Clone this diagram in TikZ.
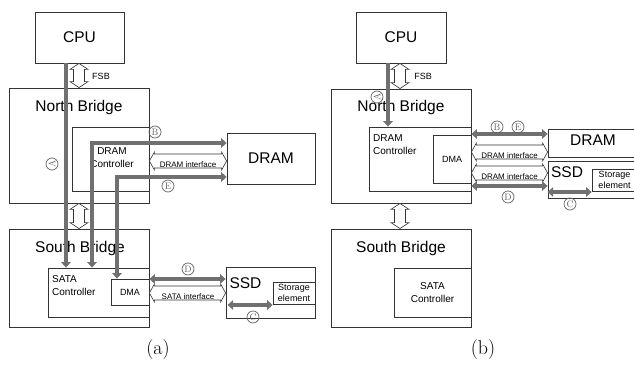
\documentclass[tikz,border=0pt]{standalone}
\usepackage{fontspec}
\newfontfamily\arialfont{Liberation Sans}
\usetikzlibrary{arrows.meta,calc}
\definecolor{pathgray}{RGB}{112,112,112}
\definecolor{markgray}{RGB}{100,100,100}
% hollow double arrows, left-right and top-bottom
\newcommand{\hollowh}[2]{%
  \draw[hollow] let \p1=#1, \p2=#2 in
    (\x1,\y1) -- (\x1+5pt,\y1+9pt) -- (\x1+5pt,\y1+7pt) -- (\x2-5pt,\y1+7pt)
    -- (\x2-5pt,\y1+9pt) -- (\x2,\y1) -- (\x2-5pt,\y1-9pt) -- (\x2-5pt,\y1-7pt)
    -- (\x1+5pt,\y1-7pt) -- (\x1+5pt,\y1-9pt) -- cycle;}
\newcommand{\hollowv}[2]{%
  \draw[hollow] let \p1=#1, \p2=#2 in
    (\x1,\y1) -- (\x1+9pt,\y1-6pt) -- (\x1+5.5pt,\y1-6pt) -- (\x1+5.5pt,\y2+6pt)
    -- (\x1+9pt,\y2+6pt) -- (\x1,\y2) -- (\x1-9pt,\y2+6pt) -- (\x1-5.5pt,\y2+6pt)
    -- (\x1-5.5pt,\y1-6pt) -- (\x1-9pt,\y1-6pt) -- cycle;}
\begin{document}
\begin{tikzpicture}[x=1pt,y=-1pt,
    box/.style={draw=black!80,line width=0.8pt,inner sep=0pt},
    bigtxt/.style={font=\arialfont\fontsize{15.5}{18}\selectfont,inner sep=0pt},
    midtxt/.style={font=\arialfont\fontsize{10}{13}\selectfont,inner sep=0pt},
    smalltxt/.style={font=\arialfont\fontsize{9}{11}\selectfont,inner sep=0pt},
    tinytxt/.style={font=\arialfont\fontsize{8}{9}\selectfont,inner sep=0pt},
    datapath/.style={draw=pathgray,line width=3.5pt,>={Triangle[width=9.5pt,length=5.5pt]}},
    hollow/.style={draw=black!80,line width=0.6pt,fill=white},
    circ/.style={circle,draw=markgray,text=markgray,line width=0.7pt,minimum size=12pt,inner sep=0pt,font=\fontsize{9.5}{10}\selectfont},
    caption/.style={font=\fontsize{20}{24}\selectfont,inner sep=0pt}]
  \clip (0,0) rectangle (634,366);
  %
  % (a)
  \node[box,bigtxt,minimum width=89pt,minimum height=51pt] (cpuA) at (79.5,37.5) {CPU};
  \node[box,minimum width=140pt,minimum height=115pt] (nbA) at (79,145.5) {};
  \node[box,minimum width=77pt,minimum height=64pt] (dctlA) at (110.5,159) {};
  \node[box,bigtxt,minimum width=88pt,minimum height=51pt] (dramA) at (271,158.5) {DRAM};
  \node[box,minimum width=140pt,minimum height=98pt] (sbA) at (79,278) {};
  \node[box,minimum width=101pt,minimum height=49pt] (sataA) at (98.5,292.5) {};
  \node[box,smalltxt,minimum width=38pt,minimum height=26pt] (dmaA) at (130,292) {DMA};
  \node[box,minimum width=89pt,minimum height=51pt] (ssdA) at (270.5,292.5) {};
  \node[box,smalltxt,align=center,minimum width=42pt,minimum height=22pt] (storA) at (294,293) {Storage\\element};
  %
  \node[bigtxt] (nbtxtA) at (79,107) {North Bridge};
  \node[bigtxt] (sbtxtA) at (80,248) {South Bridge};
  \node[midtxt,align=center] (dctltxtA) at (112,158) {DRAM\\Controller};
  \node[midtxt,align=left,anchor=west] (satatxtA) at (52,285.5) {SATA\\Controller};
  \node[bigtxt] (ssdtxtA) at (245.5,283) {SSD};
  %
  \coordinate (fsbA) at (79,0);
  \coordinate (nsA) at (79,0);
  \coordinate (dramifA) at (0,161);
  \coordinate (sataifA) at (0,293);
  \hollowv{(cpuA.south -| fsbA)}{(nbA.north -| fsbA)}
  \hollowv{(nbA.south -| nsA)}{(sbA.north -| nsA)}
  \hollowh{(dctlA.east |- dramifA)}{(dramA.west |- dramifA)}
  \hollowh{(sataA.east |- sataifA)}{(ssdA.west |- sataifA)}
  \node[smalltxt] (fsbtxtA) at (101,76) {FSB};
  \node[tinytxt] (dramiftxtA) at (188,164.5) {DRAM interface};
  \node[tinytxt] (sataiftxtA) at (188,296.5) {SATA interface};
  %
  \coordinate (aColA) at (66,0);
  \coordinate (bTurnA) at (92,143);
  \coordinate (eTurnA) at (117,177);
  \coordinate (dRowA) at (0,279);
  \coordinate (cRowA) at (0,305);
  \draw[datapath,->] (cpuA.south -| aColA) -- (sataA.north -| aColA);
  \draw[datapath,<->] (dramA.west |- bTurnA) -- (bTurnA) -- (bTurnA |- sataA.north);
  \draw[datapath,<->] (dramA.west |- eTurnA) -- (eTurnA) -- (eTurnA |- dmaA.north);
  \draw[datapath,<->] (sataA.east |- dRowA) -- (ssdA.west |- dRowA);
  \draw[datapath,<->] ([xshift=2pt]ssdA.west |- cRowA) -- (storA.west |- cRowA);
  %
  \node[circ,rotate=90] (markAa) at (52,164) {A};
  \node[circ] (markBa) at (155,132) {B};
  \node[circ] (markEa) at (168,186) {E};
  \node[circ] (markDa) at (188,269) {D};
  \node[circ] (markCa) at (253,317) {C};
  \node[caption] (capA) at (158,350) {(a)};
  %
  % (b)
  \node[box,bigtxt,minimum width=90pt,minimum height=51pt] (cpuB) at (401,37.5) {CPU};
  \node[box,minimum width=140pt,minimum height=114pt] (nbB) at (401,146) {};
  \node[box,minimum width=102pt,minimum height=64pt] (dctlB) at (420,159) {};
  \node[box,smalltxt,minimum width=38pt,minimum height=48pt] (dmaB) at (452,159) {DMA};
  \node[box,minimum width=92pt,minimum height=28pt] (dramB) at (594,143) {};
  \node[box,minimum width=92pt,minimum height=37pt] (ssdB) at (594,179.5) {};
  \node[box,minimum width=48pt,minimum height=22pt] (storB) at (616,180) {};
  \node[box,minimum width=140pt,minimum height=98pt] (sbB) at (401,278) {};
  \node[box,midtxt,align=center,minimum width=77pt,minimum height=49pt] (sataB) at (432.5,292.5) {SATA\\Controller};
  %
  \node[bigtxt] (nbtxtB) at (401,107) {North Bridge};
  \node[bigtxt] (sbtxtB) at (401,248) {South Bridge};
  \node[midtxt,align=left,anchor=west] (dctltxtB) at (373,145) {DRAM\\Controller};
  \node[bigtxt] (dramtxtB) at (593,140) {DRAM};
  \node[bigtxt] (ssdtxtB) at (567,172) {SSD};
  \node[smalltxt,align=center] (stortxtB) at (614.5,180) {Storage\\element};
  %
  \coordinate (fsbB) at (400,0);
  \coordinate (nsB) at (400,0);
  \coordinate (dramifB) at (0,152);
  \coordinate (ssdifB) at (0,173);
  \hollowv{(cpuB.south -| fsbB)}{(nbB.north -| fsbB)}
  \hollowv{(nbB.south -| nsB)}{(sbB.north -| nsB)}
  \hollowh{(dctlB.east |- dramifB)}{(dramB.west |- dramifB)}
  \hollowh{(dctlB.east |- ssdifB)}{(ssdB.west |- ssdifB)}
  \node[smalltxt] (fsbtxtB) at (423,76) {FSB};
  \node[tinytxt] (dramiftxtB) at (509.5,155.5) {DRAM interface};
  \node[tinytxt] (ssdiftxtB) at (509.5,176.5) {DRAM interface};
  %
  \coordinate (aColB) at (388,0);
  \coordinate (beRowB) at (0,134);
  \coordinate (dRowB) at (0,186);
  \coordinate (cRowB) at (0,192);
  \draw[datapath,->] (cpuB.south -| aColB) -- (dctlB.north -| aColB);
  \draw[datapath,<->] (dctlB.east |- beRowB) -- (dramB.west |- beRowB);
  \draw[datapath,<->] (dctlB.east |- dRowB) -- (ssdB.west |- dRowB);
  \draw[datapath,<->] (ssdB.west |- cRowB) -- (storB.west |- cRowB);
  %
  \node[circ,rotate=90] (markAb) at (377,97) {A};
  \node[circ] (markBb) at (497,127) {B};
  \node[circ] (markEb) at (518,127) {E};
  \node[circ] (markDb) at (508,197) {D};
  \node[circ] (markCb) at (570,204) {C};
  \node[caption] (capB) at (483,350) {(b)};
\end{tikzpicture}
\end{document}
